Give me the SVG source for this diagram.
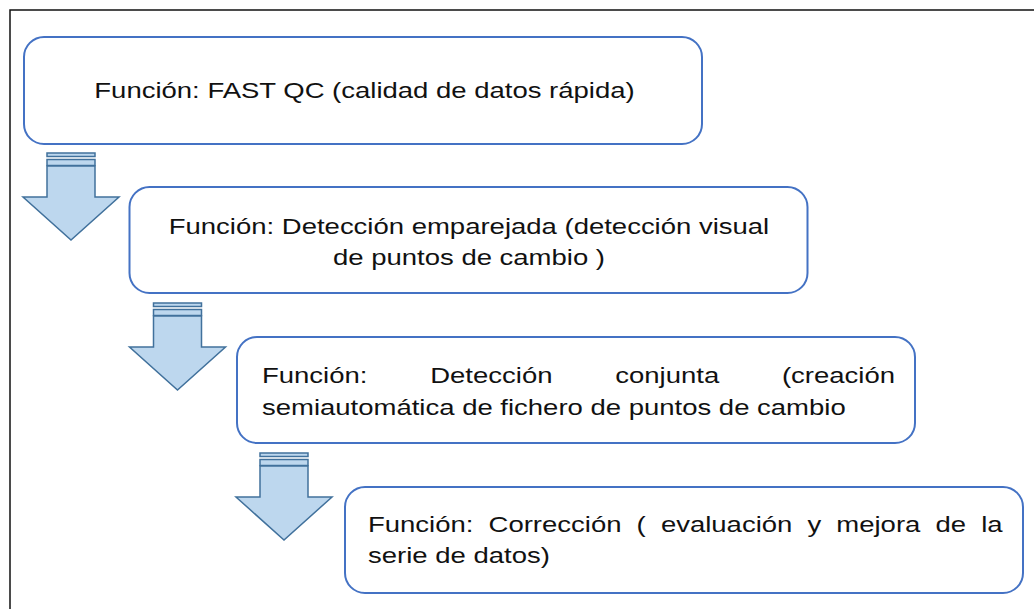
<svg xmlns="http://www.w3.org/2000/svg" width="1034" height="609" viewBox="0 0 1034 609">
<defs>
<style>
.box{fill:#ffffff;stroke:#4472C4;stroke-width:2}
.arrow{fill:#BDD7EE;stroke:#41719C;stroke-width:1.5;stroke-linejoin:miter}
.txt{font-family:"Liberation Sans",Arial,sans-serif;font-size:22px;fill:#111111}
.frame{fill:none;stroke:#111111;stroke-width:1.5}
</style>
<g id="arrowShape">
<rect class="arrow" x="47" y="153" width="48" height="3.5"/>
<rect class="arrow" x="47" y="159.5" width="48" height="6"/>
<path class="arrow" d="M47,166 H95 V197 H119 L71,240 L23,197 H47 Z"/>
</g>
</defs>
<rect width="1034" height="609" fill="#ffffff"/>
<path class="frame" d="M10,609 V10 H1034"/>

<g id="connectors">
<use href="#arrowShape"/>
<use href="#arrowShape" transform="translate(106.5,150)"/>
<use href="#arrowShape" transform="translate(213,300)"/>
</g>

<g id="node1">
<rect class="box" x="24" y="37" width="678" height="107" rx="20"/>
<g transform="matrix(1.25 0 0 1 0 0)">
<text class="txt" x="291.6" y="98" text-anchor="middle">Función: FAST QC (calidad de datos rápida)</text>
</g>
</g>

<g id="node2">
<rect class="box" x="129.5" y="187" width="678" height="106" rx="20"/>
<g transform="matrix(1.25 0 0 1 0 0)">
<text class="txt" x="375.2" y="234" text-anchor="middle">Función: Detección emparejada (detección visual</text>
<text class="txt" x="375.2" y="265" text-anchor="middle">de puntos de cambio )</text>
</g>
</g>

<g id="node3">
<rect class="box" x="237" y="337" width="678" height="106" rx="20"/>
<g transform="matrix(1.25 0 0 1 0 0)">
<text class="txt" y="383"><tspan x="209.6">Función:</tspan><tspan x="344.2">Detección</tspan><tspan x="492.2">conjunta</tspan></text>
<text class="txt" x="716" y="383" text-anchor="end">(creación</text>
<text class="txt" x="209.6" y="415">semiautomática de fichero de puntos de cambio</text>
</g>
</g>

<g id="node4">
<rect class="box" x="345" y="487" width="678" height="106" rx="20"/>
<g transform="matrix(1.25 0 0 1 0 0)">
<text class="txt" x="294.4" y="532" word-spacing="6">Función: Corrección ( evaluación y mejora de la</text>
<text class="txt" x="294.4" y="563">serie de datos)</text>
</g>
</g>
</svg>
